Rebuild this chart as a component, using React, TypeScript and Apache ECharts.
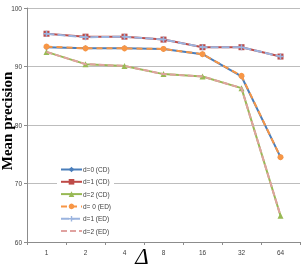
import React, { useEffect, useRef } from "react";
import * as echarts from "echarts";

const categories = ["1", "2", "4", "8", "16", "32", "64"];
const d0CD = [93.3, 93.1, 93.1, 93.0, 92.1, 88.3, 74.5];
const d1CD = [95.6, 95.1, 95.1, 94.6, 93.3, 93.3, 91.7];
const d2CD = [92.5, 90.4, 90.1, 88.7, 88.3, 86.3, 64.5];
const d0ED = [93.4, 93.1, 93.1, 93.0, 92.1, 88.4, 74.5];
const d1ED = [95.6, 95.0, 95.1, 94.6, 93.3, 93.3, 91.7];
const d2ED = [92.5, 90.4, 90.1, 88.7, 88.3, 86.3, 64.5];
const seriesNames = ["d=0 (CD)", "d=1 (CD)", "d=2 (CD)", "d= 0 (ED)", "d=1 (ED)", "d=2 (ED)"];

const plusPath = "path://M3,0h2v3h3v2h-3v3h-2v-3h-3v-2h3z";

export default function App() {
  const ref = useRef<HTMLDivElement>(null);
  useEffect(() => {
    if (!ref.current) return;
    const chart = echarts.init(ref.current, null, { renderer: "svg" });
    const mk = (name: string, data: number[], color: string, symbol: string, size: number, dash: any, z: number) => ({
      name,
      type: "line",
      data,
      symbol,
      symbolSize: size,
      showSymbol: symbol !== "none",
      z,
      itemStyle: { color },
      lineStyle: { color, width: 2, type: dash },
    });
    chart.setOption({
      animation: false,
      grid: { left: 27, right: 5, top: 8, bottom: 29 },
      xAxis: {
        type: "category",
        data: categories,
        boundaryGap: true,
        axisLine: { lineStyle: { color: "#8c8c8c", width: 1 } },
        axisTick: { show: true, length: 3, lineStyle: { color: "#8c8c8c" } },
        axisLabel: { fontSize: 6.5, color: "#404040", fontFamily: "Liberation Sans", margin: 7 },
      },
      yAxis: {
        type: "value",
        min: 60,
        max: 100,
        interval: 10,
        axisLine: { show: true, lineStyle: { color: "#8c8c8c", width: 1 } },
        axisTick: { show: true, length: 3, lineStyle: { color: "#8c8c8c" } },
        axisLabel: { fontSize: 6.5, color: "#404040", fontFamily: "Liberation Sans", margin: 5 },
        splitLine: { lineStyle: { color: "#bdbdbd", width: 1 } },
      },
      legend: {
        orient: "vertical",
        left: 57,
        top: 164,
        data: [
          seriesNames[0],
          seriesNames[1],
          seriesNames[2],
          seriesNames[3],
          seriesNames[4],
          { name: seriesNames[5], itemStyle: { opacity: 0 } },
        ],
        itemWidth: 21,
        itemHeight: 7,
        itemGap: 5.3,
        backgroundColor: "#ffffff",
        padding: [2, 3, 2, 3],
        textStyle: { fontSize: 6.5, lineHeight: 7, color: "#404040", fontFamily: "Liberation Sans", padding: [0, 0, 0, -4] },
      },
      graphic: [
        {
          type: "text",
          x: 7,
          y: 121,
          rotation: Math.PI / 2,
          style: {
            text: "Mean precision",
            font: "bold 15px 'Liberation Serif'",
            fill: "#000",
            textAlign: "center",
            textVerticalAlign: "middle",
          },
        },
        {
          type: "text",
          x: 142,
          y: 256,
          style: {
            text: "Δ",
            font: "italic 23px 'Liberation Serif'",
            fill: "#000",
            textAlign: "center",
            textVerticalAlign: "middle",
          },
        },
      ],
      series: [
        mk(seriesNames[0], d0CD, "#4a7ebb", "diamond", 6, "solid", 2),
        mk(seriesNames[1], d1CD, "#be4b48", "rect", 6, "solid", 2),
        mk(seriesNames[2], d2CD, "#98b954", "triangle", 6, "solid", 2),
        mk(seriesNames[3], d0ED, "#f79646", "circle", 6, [6, 4], 3),
        mk(seriesNames[4], d1ED, "#9bb4df", plusPath, 6, [8, 3], 3),
        mk(seriesNames[5], d2ED, "#e0a2a0", "none", 6, [6, 3], 3),
      ],
    });
    return () => chart.dispose();
  }, []);
  return <div ref={ref} style={{ position: "fixed", left: 0, top: 0, width: 305, height: 271 }} />;
}
